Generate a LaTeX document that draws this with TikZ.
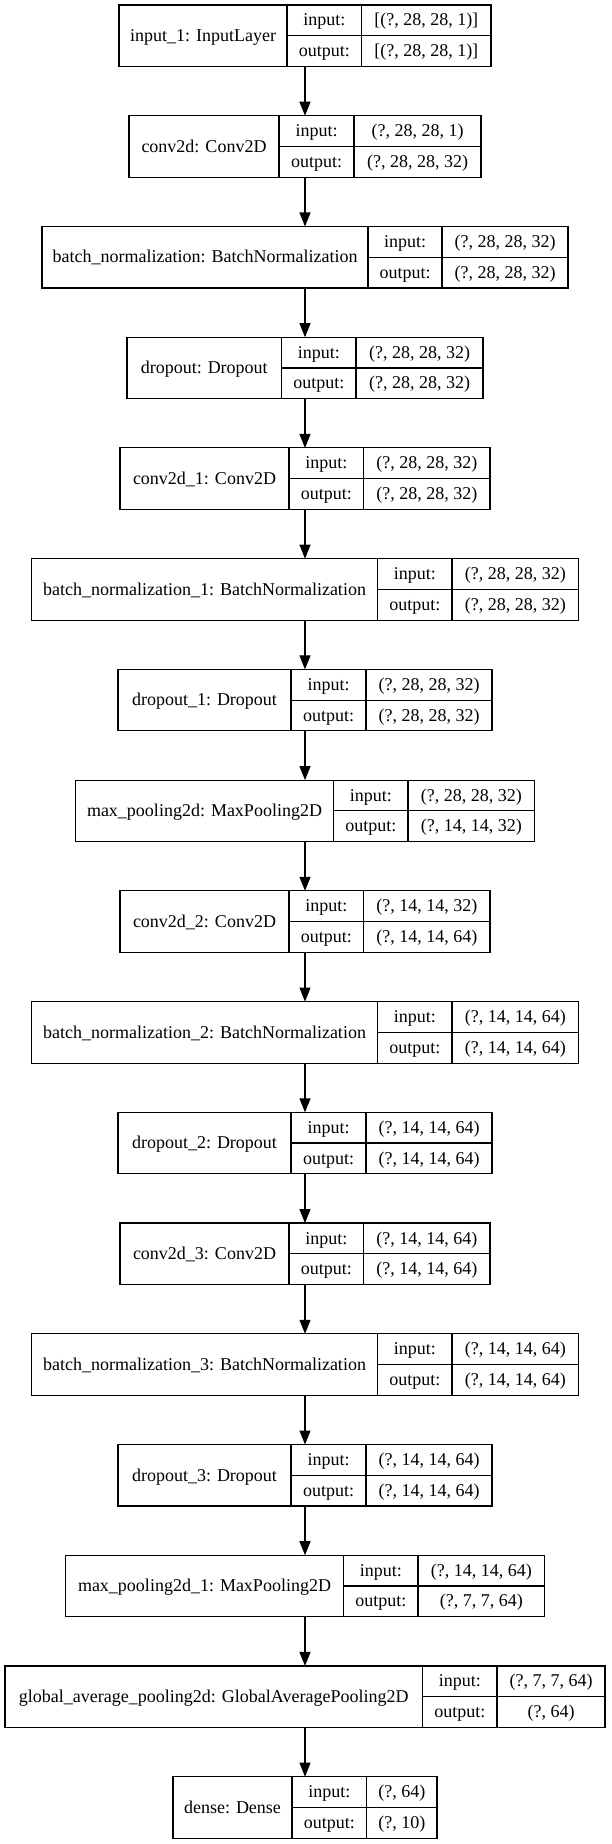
\documentclass[tikz,border=0pt]{standalone}
\usepackage{fontspec}
\setmainfont{Liberation Serif}
\usetikzlibrary{arrows.meta}
\tikzset{
  lbox/.style={draw=black, line width=1.15pt, rectangle, inner sep=0pt, outer sep=0pt, minimum height=61.5pt},
  cell/.style={draw=black, line width=1.15pt},
  txt/.style={inner sep=0pt, anchor=base, font=\fontsize{18}{20}\selectfont},
  arr/.style={draw=black, line width=1.15pt, -{Triangle[length=14pt, width=11pt]}}
}
\newcommand\mylayer[8]{%
  \pgfmathsetmacro\Wd{610-2*#2}%
  \node[lbox, minimum width=\Wd pt, anchor=north] (#1) at (305,-#5) {};
  \draw[cell] (#3,-#5) -- (#3,-#5-61.5);
  \draw[cell] (#4,-#5) -- (#4,-#5-61.5);
  \draw[cell] (#3,-#5-30.75) -- ({610-#2},-#5-30.75);
  \node[txt] (#1n) at ({(#2+#3)/2},-#5-36.5) {#6};
  \node[txt] (#1i) at ({(#3+#4)/2},-#5-21) {input:};
  \node[txt] (#1o) at ({(#3+#4)/2},-#5-51.75) {output:};
  \node[txt] (#1a) at ({(#4+610-#2)/2},-#5-21) {#7};
  \node[txt] (#1b) at ({(#4+610-#2)/2},-#5-51.75) {#8};
}
\begin{document}
\begin{tikzpicture}[x=1pt,y=1pt]
\useasboundingbox (0,0) rectangle (611,-1844);
\fill[white] (0,0) rectangle (611,-1844);
\mylayer{L1}{119}{287}{361.5}{5}{input\_1: InputLayer}{[(?, 28, 28, 1)]}{[(?, 28, 28, 1)]}
\mylayer{L2}{129}{279}{354}{115.73}{conv2d: Conv2D}{(?, 28, 28, 1)}{(?, 28, 28, 32)}
\mylayer{L3}{42}{368}{442}{226.46}{batch\_normalization: BatchNormalization}{(?, 28, 28, 32)}{(?, 28, 28, 32)}
\mylayer{L4}{127}{281.5}{356}{337.19}{dropout: Dropout}{(?, 28, 28, 32)}{(?, 28, 28, 32)}
\mylayer{L5}{120}{289}{363.5}{447.92}{conv2d\_1: Conv2D}{(?, 28, 28, 32)}{(?, 28, 28, 32)}
\mylayer{L6}{31.5}{377.5}{452}{558.65}{batch\_normalization\_1: BatchNormalization}{(?, 28, 28, 32)}{(?, 28, 28, 32)}
\mylayer{L7}{118}{291}{366}{669.38}{dropout\_1: Dropout}{(?, 28, 28, 32)}{(?, 28, 28, 32)}
\mylayer{L8}{75.5}{333.5}{408}{780.11}{max\_pooling2d: MaxPooling2D}{(?, 28, 28, 32)}{(?, 14, 14, 32)}
\mylayer{L9}{120}{289}{363.5}{890.84}{conv2d\_2: Conv2D}{(?, 14, 14, 32)}{(?, 14, 14, 64)}
\mylayer{L10}{31.5}{377.5}{452}{1001.57}{batch\_normalization\_2: BatchNormalization}{(?, 14, 14, 64)}{(?, 14, 14, 64)}
\mylayer{L11}{118}{291}{366}{1112.3}{dropout\_2: Dropout}{(?, 14, 14, 64)}{(?, 14, 14, 64)}
\mylayer{L12}{120}{289}{363.5}{1223.03}{conv2d\_3: Conv2D}{(?, 14, 14, 64)}{(?, 14, 14, 64)}
\mylayer{L13}{31.5}{377.5}{452}{1333.76}{batch\_normalization\_3: BatchNormalization}{(?, 14, 14, 64)}{(?, 14, 14, 64)}
\mylayer{L14}{118}{291}{366}{1444.49}{dropout\_3: Dropout}{(?, 14, 14, 64)}{(?, 14, 14, 64)}
\mylayer{L15}{65.5}{343.5}{418}{1555.22}{max\_pooling2d\_1: MaxPooling2D}{(?, 14, 14, 64)}{(?, 7, 7, 64)}
\mylayer{L16}{5}{422.5}{497}{1665.95}{global\_average\_pooling2d: GlobalAveragePooling2D}{(?, 7, 7, 64)}{(?, 64)}
\mylayer{L17}{173}{292}{366.5}{1776.68}{dense: Dense}{(?, 64)}{(?, 10)}
\foreach \a/\b in {L1/L2,L2/L3,L3/L4,L4/L5,L5/L6,L6/L7,L7/L8,L8/L9,L9/L10,L10/L11,L11/L12,L12/L13,L13/L14,L14/L15,L15/L16,L16/L17}
  \draw[arr] (\a) -- (\b);
\end{tikzpicture}
\end{document}
